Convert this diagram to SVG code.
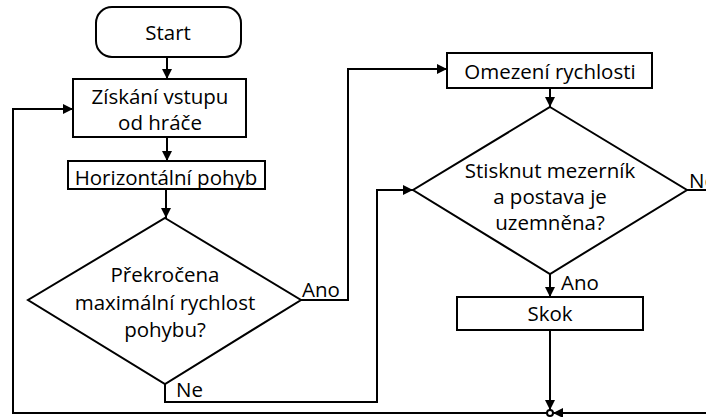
<svg xmlns="http://www.w3.org/2000/svg" width="706" height="417" viewBox="0 0 706 417">
<style>
.n{fill:#fff;stroke:#000;stroke-width:2}
.c{fill:none;stroke:#000;stroke-width:2}
text{font-family:"Open Sans","Noto Sans",sans-serif;font-size:20.5px;fill:#000}
.m{text-anchor:middle}
</style>
<defs>
<marker id="a" viewBox="0 0 10 10" refX="10" refY="5" markerWidth="5" markerHeight="5" orient="auto" markerUnits="strokeWidth">
<path d="M0,0 L10,5 L0,10 z" fill="#000"/>
</marker>
</defs>
<rect width="706" height="417" fill="#fff"/>
<g id="connectors">
<path class="c" d="M167,57 V79" marker-end="url(#a)"/>
<path class="c" d="M167,137 V161" marker-end="url(#a)"/>
<path class="c" d="M166,189 V218" marker-end="url(#a)"/>
<path class="c" d="M301,300 H348 V69 H447" marker-end="url(#a)"/>
<path class="c" d="M550,88 V107" marker-end="url(#a)"/>
<path class="c" d="M165,384 V402 H377 V190 H413" marker-end="url(#a)"/>
<path class="c" d="M550,274 V297" marker-end="url(#a)"/>
<path class="c" d="M550,330 V410" marker-end="url(#a)"/>
<path class="c" d="M687,190 H706"/>
<path class="c" d="M706,413 H553" marker-end="url(#a)"/>
<path class="c" d="M547,413 H13 V109 H73" marker-end="url(#a)"/>
<circle cx="550" cy="413" r="3" fill="#fff" stroke="#000" stroke-width="2"/>
<text x="302" y="297">Ano</text>
<text x="176" y="397">Ne</text>
<text x="561" y="290">Ano</text>
<text x="689" y="188">Ne</text>
</g>
<g id="start">
<rect class="n" x="96" y="7" width="145" height="50" rx="16"/>
<text class="m" x="168" y="40">Start</text>
</g>
<g id="vstup">
<rect class="n" x="73" y="79" width="173" height="58"/>
<text class="m" x="160" y="104">Získání vstupu</text>
<text class="m" x="160" y="130">od hráče</text>
</g>
<g id="horizontal">
<rect class="n" x="68" y="161" width="197" height="28"/>
<text class="m" x="166" y="185">Horizontální pohyb</text>
</g>
<g id="diamond1">
<path class="n" d="M165,218 L301,300 L165,384 L28,300 Z"/>
<text class="m" x="165" y="282">Překročena</text>
<text class="m" x="165" y="310">maximální rychlost</text>
<text class="m" x="165" y="337">pohybu?</text>
</g>
<g id="omezeni">
<rect class="n" x="447" y="53" width="205" height="35"/>
<text class="m" x="550" y="79">Omezení rychlosti</text>
</g>
<g id="diamond2">
<path class="n" d="M550,107 L687,190 L550,274 L413,190 Z"/>
<text class="m" x="550" y="178">Stisknut mezerník</text>
<text class="m" x="550" y="204">a postava je</text>
<text class="m" x="550" y="230">uzemněna?</text>
</g>
<g id="skok">
<rect class="n" x="457" y="297" width="186" height="33"/>
<text class="m" x="550" y="321">Skok</text>
</g>
</svg>
